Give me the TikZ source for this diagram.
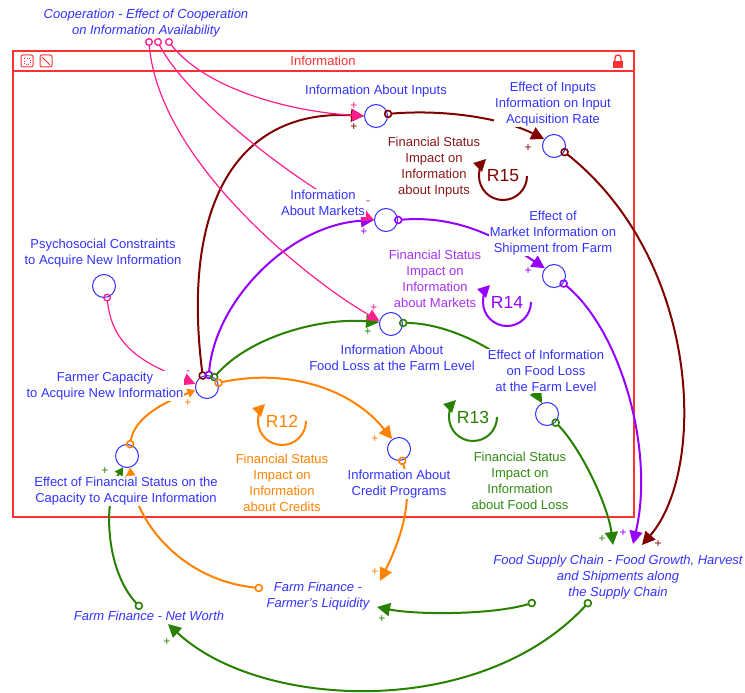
\documentclass[tikz,border=0pt]{standalone}
\usepackage{fontspec}
\setmainfont{Liberation Sans}
\usetikzlibrary{arrows.meta,calc}
\definecolor{vblue}{RGB}{51,51,255}
\definecolor{vred}{RGB}{255,50,50}
\definecolor{dred}{RGB}{128,0,0}
\definecolor{dredtxt}{RGB}{140,25,25}
\definecolor{vpur}{RGB}{150,0,255}
\definecolor{vpurtxt}{RGB}{170,50,240}
\definecolor{vgrn}{RGB}{40,130,0}
\definecolor{vgrntxt}{RGB}{50,140,20}
\definecolor{vorg}{RGB}{255,130,0}
\definecolor{vpink}{RGB}{255,30,140}
\tikzset{
  var/.style={circle,draw=vblue,line width=1pt,minimum size=23pt,inner sep=0pt},
  lbl/.style={text=vblue,align=center,font=\fontsize{13}{16}\selectfont,inner sep=1pt,fill=white},
  ext/.style={text=vblue,align=center,font=\fontsize{13}{16}\selectfont\itshape,inner sep=1pt,fill=white},
  looptxt/.style={align=center,font=\fontsize{13}{16}\selectfont,inner sep=1pt},
  rlbl/.style={font=\fontsize{17.5}{18}\selectfont,inner sep=0pt},
  pol/.style={font=\fontsize{12}{12}\selectfont,inner sep=0pt},
  link/.style={line width=2pt,{Circle[open,length=8.5pt,width=8.5pt,line width=1.6pt]}-{Triangle[length=13pt,width=13pt]},shorten <=-4pt},
  plink/.style={line width=1.2pt,{Circle[open,length=8pt,width=8pt,line width=1.3pt]}-{Triangle[length=12pt,width=12pt]},shorten <=-4pt},
  slink/.style={line width=2pt,{Circle[open,length=8.5pt,width=8.5pt,line width=1.6pt]}-{Triangle[length=8pt,width=9pt]},shorten <=-4pt},
  loopar/.style={line width=2pt,-{Triangle[length=12pt,width=12pt]}}
}
\begin{document}
\begin{tikzpicture}[x=1pt,y=-1pt]
\useasboundingbox[fill=white] (0,0) rectangle (745,693);
% sector box
\draw[vred,line width=1.2pt] (13,51) rectangle (634,517);
\draw[vred,line width=1.2pt] (13,71) -- (634,71);
\node[text=vred,font=\fontsize{13}{16}\selectfont] (boxtitle) at (323,61) {Information};
\draw[vred,line width=1pt,rounded corners=2pt] (21,55) rectangle (33,67);
\draw[vred,line width=0.6pt,dotted] (24,58) rectangle (30,64);
\draw[vred,line width=1pt,rounded corners=2pt] (40,55) rectangle (52,67);
\draw[vred,line width=1pt] (42,57) -- (50,65);
\fill[vred] (613,61) rectangle (623,68);
\draw[vred,line width=1.3pt] (615,62) -- (615,58) .. controls (615,54) and (621,54) .. (621,58) -- (621,62);
% variables
\node[var] (fca) at (207,387) {};
\node[var] (psy) at (104,286) {};
\node[var] (iai) at (376,116) {};
\node[var] (eii) at (554,146) {};
\node[var] (iam) at (386,220) {};
\node[var] (emi) at (554,276) {};
\node[var] (ifl) at (391,324) {};
\node[var] (efl) at (547,414) {};
\node[var] (icp) at (399,449) {};
\node[var] (efs) at (127,456) {};
% ports
\coordinate (cp1) at (149,42);
\coordinate (cp2) at (158,42);
\coordinate (cp3) at (169,42);
\coordinate (liqO) at (259,588);
\coordinate (liqA) at (380,581);
\coordinate (liqB) at (377,607);
\coordinate (nwO) at (139,606);
\coordinate (nwA) at (168,624);
\coordinate (fscO1) at (532,603);
\coordinate (fscO2) at (588,603);
\coordinate (fscG) at (613,545);
\coordinate (fscP) at (633,544);
\coordinate (fscR) at (642,545);
% connectors
\draw[link,dred] (fca.111) .. controls +(-22,-174) and +(-125,-7) .. (iai.180);
\draw[link,dred] (iai.10) .. controls +(60,-5) and +(-40,-20) .. (eii.145);
\draw[link,dred] (eii.-30) .. controls +(137,109) and +(65,-75) .. (fscR);
\draw[link,vpur] (fca.81) .. controls +(6,-74) and +(-85,5) .. (iam.180);
\draw[link,vpur] (iam.0) .. controls +(60,-5) and +(-45,-30) .. (emi.140);
\draw[link,vpur] (emi.-38) .. controls +(57,47) and +(22,-94) .. (fscP);
\draw[link,vgrn] (fca.54) .. controls +(35,-40) and +(-60,-5) .. (ifl.172);
\draw[link,vgrn] (ifl.5) .. controls +(50,0) and +(-25,-45) .. (efl.115);
\draw[link,vgrn] (efl.-45) .. controls +(25,25) and +(-5,-40) .. (fscG);
\draw[link,vorg] (fca.20) .. controls +(70,-15) and +(-40,-50) .. (icp.125);
\draw[slink,vorg] (efs.75) .. controls +(5,-30) and +(-25,10) .. (fca.195);
\draw[slink,vorg] (liqO) .. controls +(-79,-8) and +(4,52) .. (efs.285);
\draw[link,vorg] (icp.-75) .. controls +(12,40) and +(20,-40) .. (liqA);
\draw[link,vgrn] (fscO1) .. controls +(-40,12) and +(40,8) .. (liqB);
\draw[link,vgrn] (fscO2) .. controls +(-108,117) and +(92,86) .. (nwA);
\draw[slink,vgrn] (nwO) .. controls +(-34,-36) and +(-20,32) .. (efs.250);
\draw[plink,vpink] (cp3) .. controls +(35,45) and +(-80,-5) .. (iai.180);
\draw[plink,vpink] (cp2) .. controls +(30,60) and +(-60,-25) .. (iam.180);
\draw[plink,vpink] (cp1) .. controls +(10,120) and +(-70,-40) .. (ifl.165);
\draw[plink,vpink] (psy.-75) .. controls +(5,50) and +(-50,-20) .. (fca.165);
% labels
\node[lbl] (iaiL) at (376,91) {Information About Inputs};
\node[lbl] (eiiL) at (553,104) {Effect of Inputs\\Information on Input\\Acquisition Rate};
\node[lbl] (iamL) at (323,203) {Information\\About Markets};
\node[lbl] (emiL) at (553,233) {Effect of\\Market Information on\\Shipment from Farm};
\node[lbl] (iflL) at (392,358) {Information About\\Food Loss at the Farm Level};
\node[lbl] (eflL) at (546,371) {Effect of Information\\on Food Loss\\at the Farm Level};
\node[lbl] (fcaL) at (105,386) {Farmer Capacity\\to Acquire New Information};
\node[lbl] (psyL) at (103,253) {Psychosocial Constraints\\to Acquire New Information};
\node[lbl] (icpL) at (399,484) {Information About\\Credit Programs};
\node[lbl] (efsL) at (126,491) {Effect of Financial Status on the\\Capacity to Acquire Information};
\node[ext] (coop) at (146,23) {Cooperation - Effect of Cooperation\\on Information Availability};
\node[ext] (liq) at (318,596) {Farm Finance -\\Farmer's Liquidity};
\node[ext] (nw) at (149,616) {Farm Finance - Net Worth};
\node[ext,inner sep=0pt] (fsc) at (618,577) {Food Supply Chain - Food Growth, Harvest\\and Shipments along\\the Supply Chain};
% loops
\node[rlbl,text=dred] (r15) at (503,176) {R15};
\draw[loopar,dred] ($(r15)+(24,0)$) arc[start angle=0,end angle=225,radius=24];
\node[rlbl,text=vpur] (r14) at (507,302) {R14};
\draw[loopar,vpur] ($(r14)+(24,0)$) arc[start angle=0,end angle=225,radius=24];
\node[rlbl,text=vgrn] (r13) at (473,417) {R13};
\draw[loopar,vgrn] ($(r13)+(24,0)$) arc[start angle=0,end angle=225,radius=24];
\node[rlbl,text=vorg] (r12) at (282,421) {R12};
\draw[loopar,vorg] ($(r12)+(24,0)$) arc[start angle=0,end angle=225,radius=24];
\node[looptxt,text=dredtxt] (t15) at (434,167) {Financial Status\\Impact on\\Information\\about Inputs};
\node[looptxt,text=vpurtxt] (t14) at (435,279) {Financial Status\\Impact on\\Information\\about Markets};
\node[looptxt,text=vgrntxt] (t13) at (520,481) {Financial Status\\Impact on\\Information\\about Food Loss};
\node[looptxt,text=vorg] (t12) at (282,483) {Financial Status\\Impact on\\Information\\about Credits};
% polarities
\node[pol,text=vpink] (p1) at (354,106) {+};
\node[pol,text=dred] (p2) at (354,127) {+};
\node[pol,text=vpink] (p3) at (368,203) {-};
\node[pol,text=vpur] (p4) at (364,232) {+};
\node[pol,text=vpink] (p5) at (374,308) {+};
\node[pol,text=vgrn] (p6) at (368,332) {+};
\node[pol,text=dred] (p7) at (528,148) {+};
\node[pol,text=vpur] (p8) at (528,271) {+};
\node[pol,text=vpink] (p9) at (188,373) {-};
\node[pol,text=vorg] (p10) at (188,403) {+};
\node[pol,text=vorg] (p11) at (375,439) {+};
\node[pol,text=vgrn] (p12) at (105,471) {+};
\node[pol,text=vgrn] (p13) at (602,539) {+};
\node[pol,text=vpur] (p14) at (623,533) {+};
\node[pol,text=dred] (p15) at (658,544) {+};
\node[pol,text=vorg] (p16) at (375,572) {+};
\node[pol,text=vgrn] (p17) at (382,619) {+};
\node[pol,text=vgrn] (p18) at (167,642) {+};
\end{tikzpicture}
\end{document}
